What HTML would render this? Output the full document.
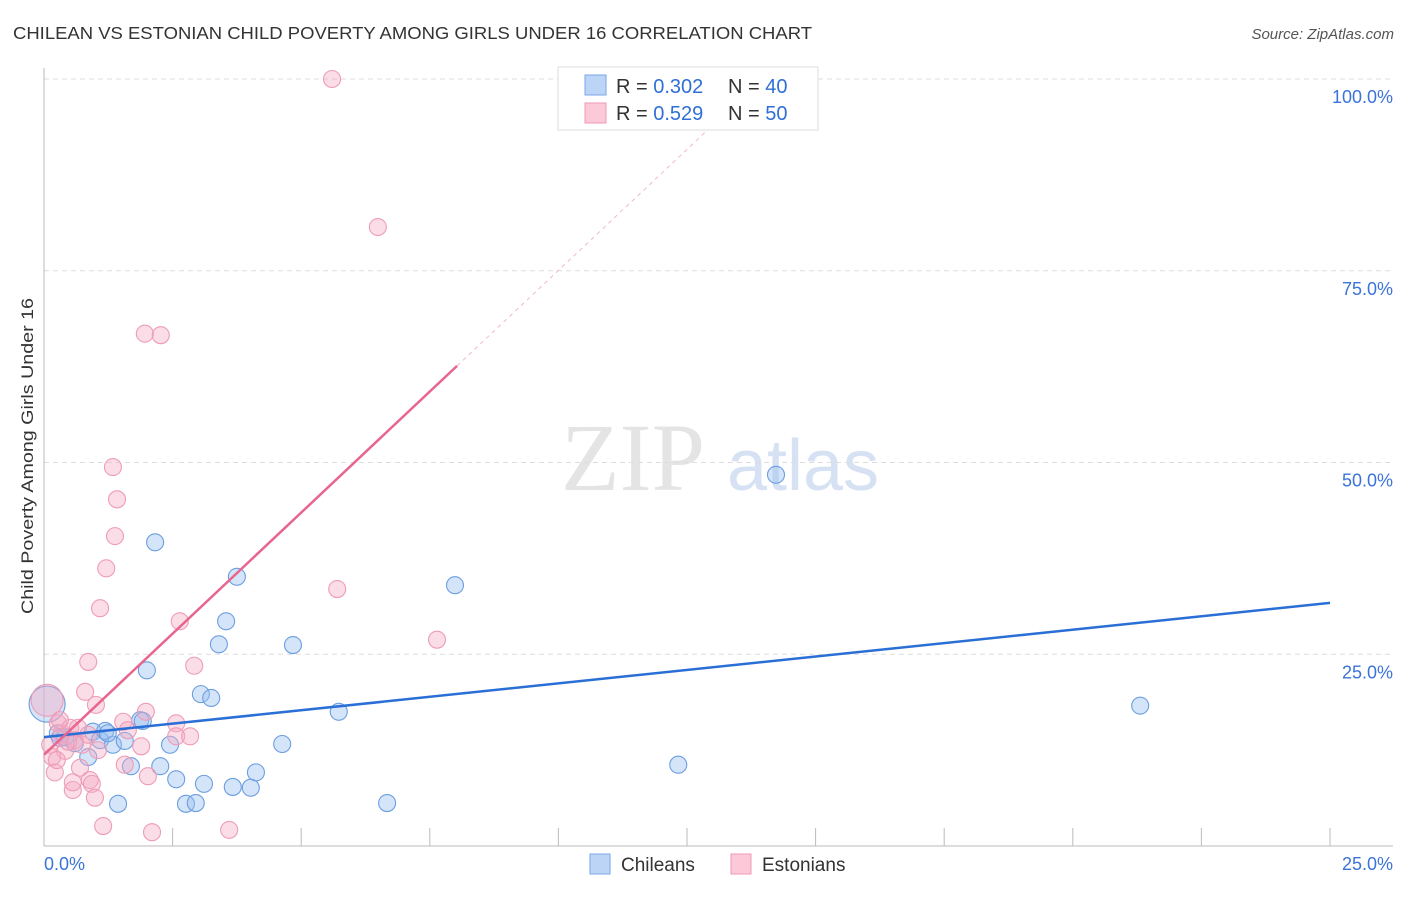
<!DOCTYPE html>
<html><head><meta charset="utf-8"><style>
body{margin:0;background:#fff;font-family:"Liberation Sans",sans-serif}
</style></head><body>
<svg id="chart" width="1406" height="892" xmlns="http://www.w3.org/2000/svg">
<text x="13" y="39" font-size="17.5" fill="#333" textLength="799" lengthAdjust="spacingAndGlyphs">CHILEAN VS ESTONIAN CHILD POVERTY AMONG GIRLS UNDER 16 CORRELATION CHART</text>
<text x="1394" y="39" font-size="15" fill="#555" font-style="italic" text-anchor="end">Source: ZipAtlas.com</text>
<text transform="translate(33,456) rotate(-90)" font-size="17" fill="#333" text-anchor="middle" textLength="316" lengthAdjust="spacingAndGlyphs">Child Poverty Among Girls Under 16</text>
<g><text x="633" y="490" font-size="96" font-family="Liberation Serif,serif" fill="#e4e4e4" text-anchor="middle">ZIP</text><text x="803" y="490" font-size="72" fill="#d6e2f3" text-anchor="middle">atlas</text></g>
<g id="grid"></g><g id="axes"></g><g id="pts"></g><g id="lines"></g>
<g>
<rect x="558" y="67" width="260" height="63" fill="#fff" stroke="#ddd"/>
<rect x="585" y="75" width="21" height="20" fill="#bcd4f6" stroke="#7aa6e8"/>
<rect x="585" y="103" width="21" height="20" fill="#fbc9d8" stroke="#ef9ab5"/>
<text x="616" y="93" font-size="20" fill="#333">R = <tspan fill="#2f6fd6">0.302</tspan></text>
<text x="728" y="93" font-size="20" fill="#333">N = <tspan fill="#2f6fd6">40</tspan></text>
<text x="616" y="120" font-size="20" fill="#333">R = <tspan fill="#2f6fd6">0.529</tspan></text>
<text x="728" y="120" font-size="20" fill="#333">N = <tspan fill="#2f6fd6">50</tspan></text>
</g>
<g>
<rect x="590" y="854" width="20" height="20" fill="#bcd4f6" stroke="#7aa6e8"/>
<text x="621" y="871" font-size="19" fill="#333">Chileans</text>
<rect x="731" y="854" width="20" height="20" fill="#fbc9d8" stroke="#ef9ab5"/>
<text x="762" y="871" font-size="19" fill="#333">Estonians</text>
</g>
</svg>
<script>
const yTicks=[25,50,75,100];
const yTickLabels=["25.0%","50.0%","75.0%","100.0%"];
const xTickLabels=["0.0%","25.0%"];
const blueX=[0.06,0.27,0.31,0.86,0.95,1.09,1.19,1.34,1.57,1.44,1.69,1.87,1.92,2.0,2.16,2.26,2.45,2.57,2.76,2.95,3.05,3.11,3.25,3.4,3.54,3.67,3.75,4.02,4.12,4.63,4.84,5.73,6.67,7.99,12.33,14.23,21.31,0.41,0.6,1.24];
const blueY=[18.5,14.7,14.1,11.6,14.9,13.8,15.0,13.2,13.7,5.5,10.4,16.4,16.3,22.9,39.6,10.4,13.2,8.7,5.5,5.6,19.8,8.1,19.3,26.3,29.3,7.7,35.1,7.6,9.6,13.3,26.2,17.5,5.6,34.0,10.6,48.4,18.3,14.2,13.4,14.7];
const pinkX=[0.06,0.12,0.21,0.27,0.35,0.41,0.51,0.56,0.56,0.6,0.66,0.7,0.8,0.86,0.89,0.93,0.99,1.01,1.09,1.15,1.21,1.34,1.38,1.42,1.54,1.57,1.63,1.89,1.96,1.98,2.02,2.1,2.27,2.57,2.64,2.57,2.84,2.92,3.6,5.6,5.7,6.49,7.64,0.16,0.25,0.31,0.47,0.74,1.05,0.86];
const pinkY=[19.0,13.2,9.6,16.0,14.7,12.4,15.4,7.3,8.3,13.8,15.4,10.2,20.1,24.0,8.6,8.1,6.3,18.4,31.0,2.6,36.2,49.4,40.4,45.2,16.2,10.6,15.1,13.0,66.8,17.5,9.1,1.8,66.6,16.0,29.3,14.3,14.3,23.5,2.1,100,33.5,80.7,26.9,11.6,11.2,16.4,13.6,13.2,12.5,14.5];
const blueTrend=[14.2,31.7];
const pinkTrend=[11.9,62.6];
const pinkTrendEnd=8.03;
const NS="http://www.w3.org/2000/svg";
const X=v=>44+v*51.44, Y=v=>846-v*7.67;
function mk(p,t,a){const e=document.createElementNS(NS,t);for(const k in a)e.setAttribute(k,a[k]);p.appendChild(e);return e;}
const grid=document.getElementById('grid'),axes=document.getElementById('axes'),pts=document.getElementById('pts'),lines=document.getElementById('lines');
yTicks.forEach((t,i)=>{
 const l=mk(grid,'line',{x1:44,x2:1393,y1:Y(t),y2:Y(t),stroke:'#ddd','stroke-dasharray':'5,4'});
 
 
 const tx=mk(axes,'text',{x:1393,y:Y(t)+24,'font-size':18,fill:'#3b73d9','text-anchor':'end'});
 tx.textContent=yTickLabels[i];
 
 
});
mk(axes,'line',{x1:44,x2:44,y1:68,y2:846,stroke:'#bbb'});
mk(axes,'line',{x1:44,x2:1393,y1:846,y2:846,stroke:'#bbb'});
for(let i=1;i<=10;i++){const t=mk(axes,'line',{x1:X(i*2.5),x2:X(i*2.5),y1:828,y2:846,stroke:'#bbb'});
 
 }
const x0=mk(axes,'text',{x:44,y:870,'font-size':18,fill:'#3b73d9'});x0.textContent=xTickLabels[0];


const x1=mk(axes,'text',{x:1393,y:870,'font-size':18,fill:'#3b73d9','text-anchor':'end'});x1.textContent=xTickLabels[1];


blueX.forEach((v,i)=>{const c=mk(pts,'circle',{cx:X(v),cy:Y(blueY[i]),r:i==0?18:8.5,fill:'rgba(150,190,240,0.4)',stroke:'#6b9ee0','stroke-width':1.1});
 
 });
pinkX.forEach((v,i)=>{const c=mk(pts,'circle',{cx:X(v),cy:Y(pinkY[i]),r:i==0?16:8.5,fill:'rgba(245,170,195,0.4)',stroke:'#ee9cb7','stroke-width':1.1});
 
 });
const bl=mk(lines,'line',{x1:X(0),y1:Y(blueTrend[0]),x2:X(25),y2:Y(blueTrend[1]),stroke:'#2a6fd6','stroke-width':2.5});


const slope=(pinkTrend[1]-pinkTrend[0])/pinkTrendEnd;
const pl=mk(lines,'line',{x1:X(0),y1:Y(pinkTrend[0]),x2:X(pinkTrendEnd),y2:Y(pinkTrend[1]),stroke:'#e8658e','stroke-width':2.5});


const xe=(100-pinkTrend[0])/slope;
const pd=mk(lines,'line',{x1:X(pinkTrendEnd),y1:Y(pinkTrend[1]),x2:X(xe),y2:Y(100),stroke:'#f2b8ca','stroke-width':1,'stroke-dasharray':'4,4'});


</script>
</body></html>
